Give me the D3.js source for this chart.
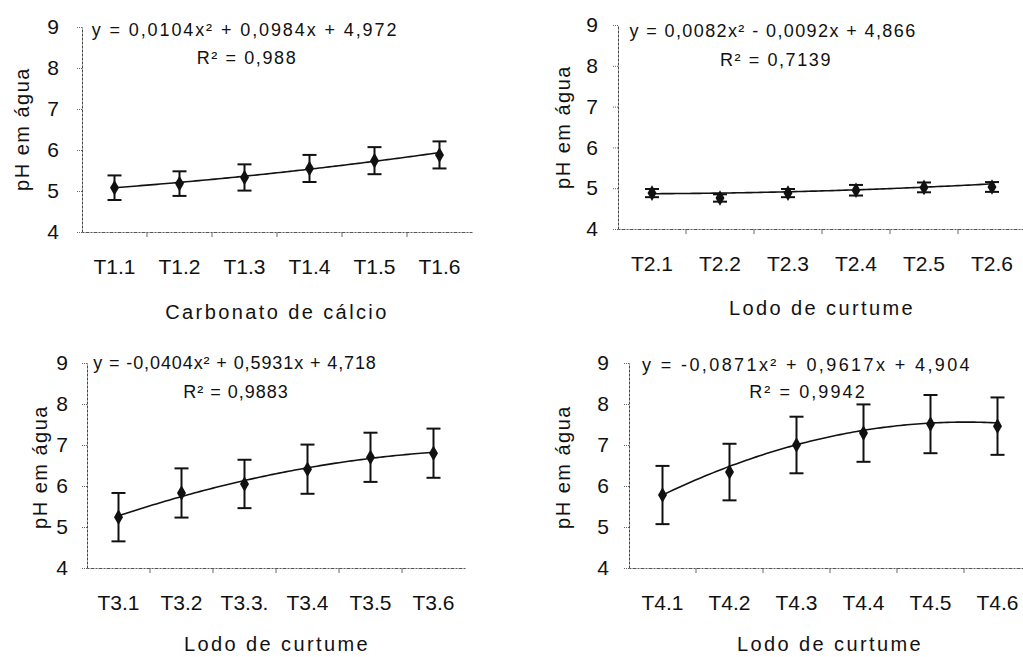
<!DOCTYPE html>
<html>
<head>
<meta charset="utf-8">
<script src="https://cdn.jsdelivr.net/npm/d3@7"></script>
<style>
  html, body { margin: 0; padding: 0; background: #fff; }
  svg { display: block; font-family: "Liberation Sans", Arial, sans-serif; }
</style>
</head>
<body>
<svg id="chart" width="1023" height="657"></svg>
<script>
// Treatment labels
const cats1 = ["T1.1", "T1.2", "T1.3", "T1.4", "T1.5", "T1.6"];
const cats2 = ["T2.1", "T2.2", "T2.3", "T2.4", "T2.5", "T2.6"];
const cats3 = ["T3.1", "T3.2", "T3.3.", "T3.4", "T3.5", "T3.6"];
const cats4 = ["T4.1", "T4.2", "T4.3", "T4.4", "T4.5", "T4.6"];

// Mean pH in water per treatment and the error-bar half widths
const mean1 = [5.08, 5.18, 5.33, 5.55, 5.74, 5.88];
const err1  = [0.30, 0.30, 0.32, 0.33, 0.33, 0.33];
const mean2 = [4.88, 4.76, 4.88, 4.95, 5.02, 5.03];
const err2  = [0.10, 0.09, 0.10, 0.13, 0.12, 0.12];
const mean3 = [5.24, 5.83, 6.05, 6.41, 6.70, 6.80];
const err3  = [0.59, 0.60, 0.59, 0.60, 0.60, 0.60];
const mean4 = [5.78, 6.34, 7.00, 7.29, 7.51, 7.46];
const err4  = [0.71, 0.69, 0.69, 0.70, 0.71, 0.70];

// Quadratic trend coefficients [a, b, c] for y = a x^2 + b x + c
const coef1 = [0.0104, 0.0984, 4.972];
const coef2 = [0.0082, -0.0092, 4.866];
const coef3 = [-0.0404, 0.5931, 4.718];
const coef4 = [-0.0871, 0.9617, 4.904];

const eqText1 = "y = 0,0104x² + 0,0984x + 4,972";
const eqText2 = "y = 0,0082x² - 0,0092x + 4,866";
const eqText3 = "y = -0,0404x² + 0,5931x + 4,718";
const eqText4 = "y = -0,0871x² + 0,9617x + 4,904";
const r2Text = ["R² = 0,988", "R² = 0,7139", "R² = 0,9883", "R² = 0,9942"];

const yTicks = [4, 5, 6, 7, 8, 9];
const yTitle = "pH em água";
const xTitles = ["Carbonato de cálcio", "Lodo de curtume", "Lodo de curtume", "Lodo de curtume"];

// Panel layout
const panels = [
  { cats: cats1, mean: mean1, err: err1, coef: coef1, eq: eqText1, r2: r2Text[0], xt: xTitles[0],
    x0: 82, x1: 472, yBot: 232, yTop: 27, yPad: 18, yTitleX: 22, yTitleY: 129,
    eqX: 245, eqY: 30, eqLs: 1.9, r2X: 247, r2Y: 58, r2Ls: 1.6, xtX: 277, xtY: 312 },
  { cats: cats2, mean: mean2, err: err2, coef: coef2, eq: eqText2, r2: r2Text[1], xt: xTitles[1],
    x0: 618, x1: 1026, yBot: 229, yTop: 25, yPad: 15, yTitleX: 563, yTitleY: 127,
    eqX: 773, eqY: 31, eqLs: 1.4, r2X: 776, r2Y: 60, r2Ls: 1.6, xtX: 822, xtY: 308 },
  { cats: cats3, mean: mean3, err: err3, coef: coef3, eq: eqText3, r2: r2Text[2], xt: xTitles[2],
    x0: 87, x1: 465, yBot: 568, yTop: 363, yPad: 14, yTitleX: 40, yTitleY: 467,
    eqX: 235, eqY: 363, eqLs: 0.9, r2X: 236, r2Y: 392, r2Ls: 1.0, xtX: 277, xtY: 644 },
  { cats: cats4, mean: mean4, err: err4, coef: coef4, eq: eqText4, r2: r2Text[3], xt: xTitles[3],
    x0: 629, x1: 1031, yBot: 568, yTop: 363, yPad: 15, yTitleX: 563, yTitleY: 467,
    eqX: 807, eqY: 365, eqLs: 2.4, r2X: 808, r2Y: 392, r2Ls: 2.1, xtX: 830, xtY: 644 }
];

const svg = d3.select("#chart");
const ink = "#111";
const fontStack = "Liberation Sans, Arial, sans-serif";

panels.forEach(p => {
  const g = svg.append("g");
  const x = d3.scaleBand().domain(p.cats).range([p.x0, p.x1]);
  const y = d3.scaleLinear().domain([4, 9]).range([p.yBot, p.yTop]);

  // y axis
  const ya = g.append("g").attr("transform", `translate(${p.x0},0)`)
    .call(d3.axisLeft(y).tickValues(yTicks).tickFormat(d3.format("d"))
      .tickSize(5).tickSizeOuter(0).tickPadding(p.yPad));
  ya.select(".domain").attr("stroke", "#444").attr("stroke-width", 1).attr("stroke-dasharray", "3,1");
  ya.selectAll(".tick line").attr("stroke", "#666").attr("stroke-dasharray", "1,1");
  ya.selectAll(".tick text").attr("font-size", 21).attr("fill", ink).attr("font-family", fontStack);

  // x axis: labels at band centres
  const xa = g.append("g").attr("transform", `translate(0,${p.yBot})`)
    .call(d3.axisBottom(x).tickSize(0).tickPadding(27));
  xa.select(".domain").attr("stroke", "#555").attr("stroke-width", 1).attr("stroke-dasharray", "2,1,4,1");
  xa.selectAll(".tick text").attr("font-size", 21).attr("fill", ink).attr("font-family", fontStack);

  // small ticks on category boundaries
  g.append("g").selectAll("line").data(p.cats.slice(1))
    .join("line")
    .attr("x1", d => x(d)).attr("x2", d => x(d))
    .attr("y1", p.yBot).attr("y2", p.yBot + 5)
    .attr("stroke", "#666").attr("stroke-width", 1);

  // trend curve from the fitted quadratic
  const [a, b, c] = p.coef;
  const pos = i => x(p.cats[0]) + x.bandwidth() / 2 + (i - 1) * x.step();
  const curve = d3.range(1, 6.001, 0.05).map(t => [pos(t), y(a * t * t + b * t + c)]);
  g.append("path").datum(curve)
    .attr("d", d3.line())
    .attr("fill", "none").attr("stroke", ink).attr("stroke-width", 1.6);

  // error bars
  const cx = d => x(d) + x.bandwidth() / 2;
  const eb = g.append("g").selectAll("g").data(p.cats).join("g");
  eb.append("line")
    .attr("x1", cx).attr("x2", cx)
    .attr("y1", (d, i) => y(p.mean[i] + p.err[i]))
    .attr("y2", (d, i) => y(p.mean[i] - p.err[i]))
    .attr("stroke", ink).attr("stroke-width", 2);
  [1, -1].forEach(s => {
    eb.append("line")
      .attr("x1", d => cx(d) - 7).attr("x2", d => cx(d) + 7)
      .attr("y1", (d, i) => y(p.mean[i] + s * p.err[i]))
      .attr("y2", (d, i) => y(p.mean[i] + s * p.err[i]))
      .attr("stroke", ink).attr("stroke-width", 2);
  });

  // mean markers
  g.append("g").selectAll("path").data(p.cats).join("path")
    .attr("d", d3.symbol(d3.symbolDiamond, 70))
    .attr("transform", (d, i) => `translate(${cx(d)},${y(p.mean[i])})`)
    .attr("fill", ink);

  // equation and R²
  g.append("text").attr("x", p.eqX).attr("y", p.eqY).attr("dy", "0.36em")
    .attr("text-anchor", "middle").attr("font-size", 18).attr("letter-spacing", p.eqLs)
    .attr("fill", ink).text(p.eq);
  g.append("text").attr("x", p.r2X).attr("y", p.r2Y).attr("dy", "0.36em")
    .attr("text-anchor", "middle").attr("font-size", 18).attr("letter-spacing", p.r2Ls)
    .attr("fill", ink).text(p.r2);

  // axis titles
  g.append("text").attr("x", p.xtX).attr("y", p.xtY).attr("dy", "0.36em")
    .attr("text-anchor", "middle").attr("font-size", 20).attr("letter-spacing", 2.4)
    .attr("fill", ink).text(p.xt);
  g.append("text")
    .attr("transform", `translate(${p.yTitleX},${p.yTitleY}) rotate(-90)`)
    .attr("dy", "0.36em").attr("text-anchor", "middle")
    .attr("font-size", 20).attr("letter-spacing", 1.5)
    .attr("fill", ink).text(yTitle);
});
</script>
</body>
</html>
